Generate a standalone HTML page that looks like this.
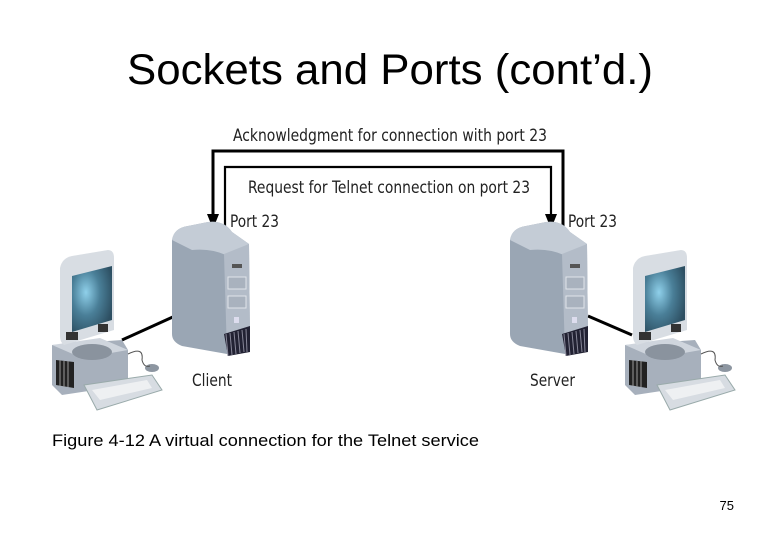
<!DOCTYPE html>
<html><head><meta charset="utf-8"><style>
body{margin:0;background:#fff;}
.w{position:relative;width:780px;height:540px;overflow:hidden;font-family:"Liberation Sans",sans-serif;}
</style></head><body><div class="w">
<svg width="780" height="540" viewBox="0 0 780 540" xmlns="http://www.w3.org/2000/svg">
<defs>
<radialGradient id="scr" cx="0.35" cy="0.4" r="0.7"><stop offset="0" stop-color="#8fd0ea"/><stop offset="0.5" stop-color="#4a7f98"/><stop offset="1" stop-color="#2d4f62"/></radialGradient>
<g id="tower">
<path d="M0,18 Q2,6 16,4 L36,0 Q52,-2 60,10 L77,22 L78,118 L55,132 L10,124 Q0,120 0,112 Z" fill="#9aa6b4"/>
<path d="M0,18 Q2,6 16,4 L36,0 Q52,-2 60,10 L77,22 L56,34 Q40,26 20,28 Z" fill="#c4ccd6"/>
<path d="M52,32 L77,22 L78,118 L55,132 Z" fill="#b3bcc8"/>
<rect x="60" y="42" width="10" height="4" fill="#555"/>
<rect x="56" y="55" width="18" height="12" fill="#a9b2be" stroke="#e0e4ea"/>
<rect x="56" y="74" width="18" height="12" fill="#a9b2be" stroke="#e0e4ea"/>
<rect x="62" y="95" width="5" height="6" fill="#dde"/>
<path d="M52,112 L78,104 L78,130 L56,134 Z" fill="#223"/>
<path d="M54,112 L56,134 M58,111 L60,133 M62,110 L64,132 M66,109 L68,131 M70,108 L72,130 M74,107 L75,130" stroke="#889" stroke-width="1"/>
</g>
<g id="ws">
<path d="M0,95 L70,90 L76,100 L76,135 L10,145 L0,135 Z" fill="#a7b0bc"/>
<path d="M0,95 L48,88 L76,100 L30,108 Z" fill="#cfd5dd"/>
<path d="M4,110 L4,135 L22,138 L22,112 Z" fill="#222"/>
<path d="M8,110 L8,136 M12,111 L12,137 M16,111 L16,137" stroke="#999"/>
<path d="M8,18 Q10,8 20,6 L56,0 Q62,0 62,8 L62,80 L12,95 Q8,92 8,86 Z" fill="#d8dde3"/>
<path d="M20,26 L60,16 L60,70 L20,82 Z" fill="url(#scr)"/>
<rect x="14" y="82" width="12" height="8" fill="#333"/>
<rect x="46" y="74" width="10" height="8" fill="#333"/>
<ellipse cx="40" cy="102" rx="20" ry="8" fill="#8a939e"/>
<path d="M32,135 L100,125 L110,140 L45,160 Z" fill="#d7dce2" stroke="#9aa" stroke-width="1"/>
<path d="M40,140 L95,130 L100,138 L48,150 Z" fill="#eef0f2"/>
<ellipse cx="100" cy="118" rx="7" ry="4" fill="#8d96a1"/>
<path d="M76,104 Q92,96 90,110 Q92,118 98,116" stroke="#555" fill="none"/>
</g>
</defs>
<text x="390" y="84" font-size="43" text-anchor="middle" fill="#000" textLength="526" lengthAdjust="spacingAndGlyphs">Sockets and Ports (cont’d.)</text>
<g stroke="#000" stroke-width="3" fill="none">
<path d="M213,216 L213,151 L563,151 L563,226"/>
</g>
<g stroke="#000" stroke-width="2.2" fill="none">
<path d="M225,226 L225,167 L551,167 L551,216"/>
</g>
<path d="M207,214 L219,214 L213,229 Z" fill="#000"/>
<path d="M545,214 L557,214 L551,229 Z" fill="#000"/>
<g font-family="'DejaVu Sans Condensed','Liberation Sans Narrow','Liberation Sans',sans-serif" font-size="17" fill="#222">
<text x="233" y="141" textLength="314" lengthAdjust="spacingAndGlyphs">Acknowledgment for connection with port 23</text>
<text x="248" y="193" textLength="282" lengthAdjust="spacingAndGlyphs">Request for Telnet connection on port 23</text>
<text x="230" y="227" textLength="49" lengthAdjust="spacingAndGlyphs">Port 23</text>
<text x="568" y="227" textLength="49" lengthAdjust="spacingAndGlyphs">Port 23</text>
<text x="192" y="386" textLength="40" lengthAdjust="spacingAndGlyphs">Client</text>
<text x="530" y="386" textLength="45" lengthAdjust="spacingAndGlyphs">Server</text>
</g>
<path d="M122,340 L175,316" stroke="#000" stroke-width="3"/>
<path d="M588,316 L632,335" stroke="#000" stroke-width="3"/>
<use href="#tower" transform="translate(172,222)"/>
<use href="#tower" transform="translate(510,222)"/>
<use href="#ws" transform="translate(52,250)"/>
<use href="#ws" transform="translate(625,250)"/>
<text x="52" y="446" font-size="17" fill="#000" textLength="427" lengthAdjust="spacingAndGlyphs">Figure 4-12 A virtual connection for the Telnet service</text>
<text x="734" y="510" font-size="13" text-anchor="end" fill="#000">75</text>
</svg>
</div></body></html>
